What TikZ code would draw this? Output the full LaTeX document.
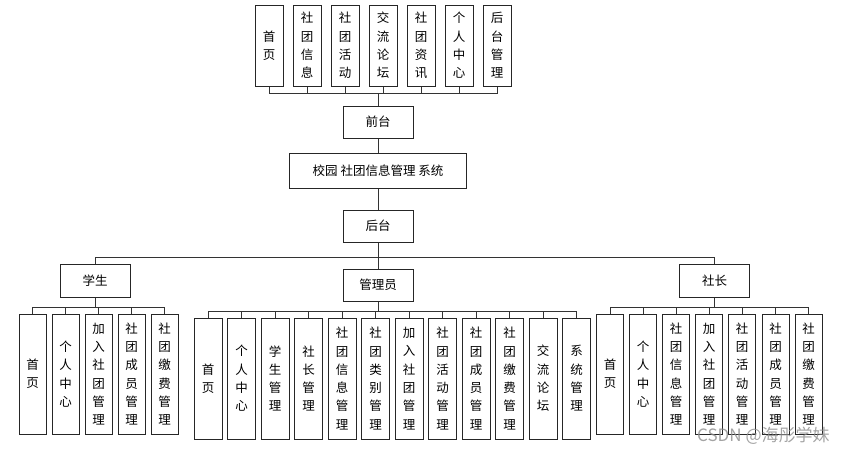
\documentclass[tikz,border=0pt]{standalone}
\usepackage{fontspec}
\setmainfont{Noto Sans CJK SC}

\begin{document}
\begin{tikzpicture}[x=1pt, y=-1pt,
    box/.style={draw=black!85, line width=1pt, fill=white, inner sep=0pt, align=center,
        font=\fontsize{12.5}{18.3}\selectfont, text=black},
    hbox/.style={box, minimum width=70pt, minimum height=32pt},
    vbox/.style={box, minimum width=28pt, minimum height=81pt},
    leaf/.style={box, minimum width=27pt, minimum height=120pt},
    link/.style={draw=black!80, line width=0.9pt}]
                \useasboundingbox (0,0) rectangle (848,453);
                % front end pages
                \node[vbox] (fhome) at (269,45.5) {首\\页};
                \node[vbox] (finfo) at (307,45.5) {社\\团\\信\\息};
                \node[vbox] (fact) at (345,45.5) {社\\团\\活\\动};
                \node[vbox] (fforum) at (383,45.5) {交\\流\\论\\坛};
                \node[vbox] (fnews) at (421,45.5) {社\\团\\资\\讯};
                \node[vbox] (fuser) at (459,45.5) {个\\人\\中\\心};
                \node[vbox] (fadmin) at (497,45.5) {后\\台\\管\\理};
                % main column
                \node[hbox] (front) at (378,122) {前台};
                \node[box, minimum width=177pt, minimum height=35pt] (sys) at (378,170.5) {校园 社团信息管理 系统};
                \node[hbox] (back) at (378,226) {后台};
                \node[hbox, minimum height=33pt] (student) at (95,280.5) {学生};
                \node[hbox] (admin) at (378,285) {管理员};
                \node[hbox, minimum height=33pt] (leader) at (714.5,280.5) {社长};
                % student
                \node[leaf] (shome) at (32.5,374) {首\\页};
                \node[leaf] (smine) at (65.5,374) {个\\人\\中\\心};
                \node[leaf] (sjoin) at (98.5,374) {加\\入\\社\\团\\管\\理};
                \node[leaf] (smember) at (131.5,374) {社\\团\\成\\员\\管\\理};
                \node[leaf] (sfee) at (164.5,374) {社\\团\\缴\\费\\管\\理};
                % admin
                \node[leaf, minimum width=28pt, minimum height=121pt] (ahome) at (208,378.5) {首\\页};
                \node[leaf, minimum width=28pt, minimum height=121pt] (amine) at (241.5,378.5) {个\\人\\中\\心};
                \node[leaf, minimum width=28pt, minimum height=121pt] (astudent) at (275,378.5) {学\\生\\管\\理};
                \node[leaf, minimum width=28pt, minimum height=121pt] (aleader) at (308.5,378.5) {社\\长\\管\\理};
                \node[leaf, minimum width=28pt, minimum height=121pt] (ainfo) at (342,378.5) {社\\团\\信\\息\\管\\理};
                \node[leaf, minimum width=28pt, minimum height=121pt] (atype) at (375.5,378.5) {社\\团\\类\\别\\管\\理};
                \node[leaf, minimum width=28pt, minimum height=121pt] (ajoin) at (409,378.5) {加\\入\\社\\团\\管\\理};
                \node[leaf, minimum width=28pt, minimum height=121pt] (aact) at (442.5,378.5) {社\\团\\活\\动\\管\\理};
                \node[leaf, minimum width=28pt, minimum height=121pt] (amember) at (476,378.5) {社\\团\\成\\员\\管\\理};
                \node[leaf, minimum width=28pt, minimum height=121pt] (afee) at (509.5,378.5) {社\\团\\缴\\费\\管\\理};
                \node[leaf, minimum width=28pt, minimum height=121pt] (aforum) at (543,378.5) {交\\流\\论\\坛};
                \node[leaf, minimum width=28pt, minimum height=121pt] (asys) at (576.5,378.5) {系\\统\\管\\理};
                % club leader
                \node[leaf] (lhome) at (610,374) {首\\页};
                \node[leaf] (lmine) at (643,374) {个\\人\\中\\心};
                \node[leaf] (linfo) at (676,374) {社\\团\\信\\息\\管\\理};
                \node[leaf] (ljoin) at (709,374) {加\\入\\社\\团\\管\\理};
                \node[leaf] (lact) at (742,374) {社\\团\\活\\动\\管\\理};
                \node[leaf] (lmember) at (775.5,374) {社\\团\\成\\员\\管\\理};
                \node[leaf] (lfee) at (808.5,374) {社\\团\\缴\\费\\管\\理};
                % links to front end pages
                \draw[link] (front.north) -- ++(0,-12) -| (fhome.south);
                \draw[link] (front.north) -- ++(0,-12) -| (finfo.south);
                \draw[link] (front.north) -- ++(0,-12) -| (fact.south);
                \draw[link] (front.north) -- ++(0,-12) -| (fforum.south);
                \draw[link] (front.north) -- ++(0,-12) -| (fnews.south);
                \draw[link] (front.north) -- ++(0,-12) -| (fuser.south);
                \draw[link] (front.north) -- ++(0,-12) -| (fadmin.south);
                \draw[link] (front.south) -- (sys.north);
                \draw[link] (sys.south) -- (back.north);
                % roles
                \draw[link] (back.south) -- (admin.north);
                \draw[link] (back.south) -- ++(0,15) -| (student.north);
                \draw[link] (back.south) -- ++(0,15) -| (leader.north);
                \draw[link] (student.south) -- ++(0,10) -| (shome.north);
                \draw[link] (student.south) -- ++(0,10) -| (smine.north);
                \draw[link] (student.south) -- ++(0,10) -| (sjoin.north);
                \draw[link] (student.south) -- ++(0,10) -| (smember.north);
                \draw[link] (student.south) -- ++(0,10) -| (sfee.north);
                \draw[link] (admin.south) -- ++(0,10) -| (ahome.north);
                \draw[link] (admin.south) -- ++(0,10) -| (amine.north);
                \draw[link] (admin.south) -- ++(0,10) -| (astudent.north);
                \draw[link] (admin.south) -- ++(0,10) -| (aleader.north);
                \draw[link] (admin.south) -- ++(0,10) -| (ainfo.north);
                \draw[link] (admin.south) -- ++(0,10) -| (atype.north);
                \draw[link] (admin.south) -- ++(0,10) -| (ajoin.north);
                \draw[link] (admin.south) -- ++(0,10) -| (aact.north);
                \draw[link] (admin.south) -- ++(0,10) -| (amember.north);
                \draw[link] (admin.south) -- ++(0,10) -| (afee.north);
                \draw[link] (admin.south) -- ++(0,10) -| (aforum.north);
                \draw[link] (admin.south) -- ++(0,10) -| (asys.north);
                \draw[link] (leader.south) -- ++(0,10) -| (lhome.north);
                \draw[link] (leader.south) -- ++(0,10) -| (lmine.north);
                \draw[link] (leader.south) -- ++(0,10) -| (linfo.north);
                \draw[link] (leader.south) -- ++(0,10) -| (ljoin.north);
                \draw[link] (leader.south) -- ++(0,10) -| (lact.north);
                \draw[link] (leader.south) -- ++(0,10) -| (lmember.north);
                \draw[link] (leader.south) -- ++(0,10) -| (lfee.north);
                % watermark
                \node[font=\fontsize{17}{17}\selectfont, text=black!45, opacity=0.8, anchor=west, inner sep=0pt] (mark) at (697,436) {CSDN @海彤学妹};
            \end{tikzpicture}
\end{document}
